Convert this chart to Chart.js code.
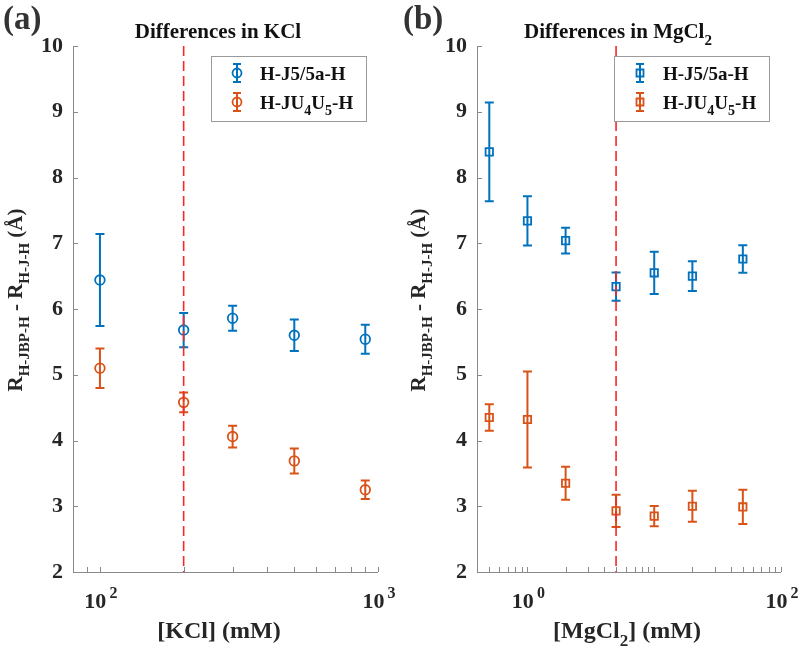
<!DOCTYPE html>
<html>
<head>
<meta charset="utf-8">
<script src="https://cdn.jsdelivr.net/npm/chart.js@4.4.1/dist/chart.umd.min.js"></script>
<style>
  body { margin: 0; background: #fff; }
  canvas { position: absolute; top: 0; }
</style>
</head>
<body>
<canvas id="kclChart" width="400" height="650" style="left:0"></canvas>
<canvas id="mgChart" width="400" height="650" style="left:400px"></canvas>
<script>
// Panel (a): differences in KCl
const kclConc = [100, 200, 300, 500, 900];
const kclJ5 = [6.44, 5.68, 5.86, 5.60, 5.54];
const kclJ5Err = [0.70, 0.26, 0.19, 0.24, 0.22];
const kclJU = [5.10, 4.58, 4.06, 3.69, 3.25];
const kclJUErr = [0.30, 0.15, 0.165, 0.19, 0.14];
const kclMarker = 200;
const kclTicks = [90, 100, 200, 300, 400, 500, 600, 700, 800, 900, 1000];
const kclDecades = [2, 3];

// Panel (b): differences in MgCl2
const mgConc = [0.5, 1, 2, 5, 10, 20, 50];
const mgJ5 = [8.39, 7.34, 7.04, 6.34, 6.55, 6.50, 6.76];
const mgJ5Err = [0.75, 0.375, 0.195, 0.215, 0.32, 0.225, 0.21];
const mgJU = [4.35, 4.32, 3.35, 2.93, 2.85, 3.00, 2.99];
const mgJUErr = [0.20, 0.73, 0.25, 0.245, 0.155, 0.235, 0.26];
const mgMarker = 5;
const mgTicks = [0.5, 0.6, 0.7, 0.8, 0.9, 1, 2, 3, 4, 5, 6, 7, 8, 9, 10, 20, 30, 40, 50, 60, 70, 80, 90, 100];
const mgDecades = [0, 2];

const yTicks = [2, 3, 4, 5, 6, 7, 8, 9, 10];

const FONT = '"Liberation Serif", "Times New Roman", serif';
const BLUE = '#0072BD';
const ORANGE = '#D95319';
const AXIS_GRAY = '#8a8a8a';
const TEXT_DARK = '#262626';
const RED = 'rgb(245, 40, 40)';

// draw text made of parts: [text, 'sub' | 'sup' | undefined]
function richText(ctx, parts, x, y, size, align, ratio = 0.7) {
    const small = Math.round(size * ratio);
    const widths = parts.map(([t, kind]) => {
        ctx.font = `bold ${kind ? small : size}px ${FONT}`;
        return ctx.measureText(t).width;
    });
    const total = widths.reduce((a, b) => a + b, 0);
    let cx = align === 'center' ? x - total / 2 : (align === 'right' ? x - total : x);
    ctx.textAlign = 'left';
    ctx.textBaseline = 'alphabetic';
    parts.forEach(([t, kind], i) => {
        ctx.font = `bold ${kind ? small : size}px ${FONT}`;
        let dy = 0;
        if (kind === 'sub') dy = size * 0.33;
        if (kind === 'sup') dy = -size * 0.45;
        ctx.fillText(t, cx, y + dy);
        cx += widths[i];
    });
    return total;
}

function drawErrorIcon(ctx, x, y, color, style) {
    ctx.save();
    ctx.strokeStyle = color;
    ctx.lineWidth = 2;
    ctx.beginPath();
    ctx.moveTo(x, y - 9); ctx.lineTo(x, y + 9);
    ctx.moveTo(x - 4, y - 9); ctx.lineTo(x + 4, y - 9);
    ctx.moveTo(x - 4, y + 9); ctx.lineTo(x + 4, y + 9);
    ctx.stroke();
    ctx.lineWidth = 1.8;
    ctx.beginPath();
    if (style === 'circle') {
        ctx.arc(x, y, 4.5, 0, Math.PI * 2);
    } else {
        ctx.rect(x - 3.5, y - 3.5, 7, 7);
    }
    ctx.stroke();
    ctx.restore();
}

const errorBarPlugin = {
    id: 'errorBars',
    beforeDatasetsDraw(chart) {
        const ctx = chart.ctx;
        const yScale = chart.scales.y;
        chart.data.datasets.forEach((ds, i) => {
            const meta = chart.getDatasetMeta(i);
            ctx.save();
            ctx.strokeStyle = ds.borderColor;
            ctx.lineWidth = 2;
            meta.data.forEach((pt, j) => {
                const v = ds.data[j].y;
                const e = ds.errors[j];
                const top = yScale.getPixelForValue(v + e);
                const bot = yScale.getPixelForValue(v - e);
                ctx.beginPath();
                ctx.moveTo(pt.x, top); ctx.lineTo(pt.x, bot);
                ctx.moveTo(pt.x - 4.5, top); ctx.lineTo(pt.x + 4.5, top);
                ctx.moveTo(pt.x - 4.5, bot); ctx.lineTo(pt.x + 4.5, bot);
                ctx.stroke();
            });
            ctx.restore();
        });
    }
};

function makeDecorations(cfg) {
    return {
        id: 'decorations',
        beforeDatasetsDraw(chart) {
            const {ctx, chartArea: a, scales: {x, y}} = chart;
            ctx.save();
            ctx.strokeStyle = AXIS_GRAY;
            ctx.lineWidth = 1;
            ctx.beginPath();
            ctx.moveTo(a.left + 0.5, a.top);
            ctx.lineTo(a.left + 0.5, a.bottom + 0.5);
            ctx.lineTo(a.right, a.bottom + 0.5);
            // inward ticks
            yTicks.forEach(v => {
                const py = Math.round(y.getPixelForValue(v)) + 0.5;
                ctx.moveTo(a.left, py); ctx.lineTo(a.left + 5, py);
            });
            cfg.ticks.forEach(v => {
                const px = Math.round(x.getPixelForValue(v)) + 0.5;
                ctx.moveTo(px, a.bottom); ctx.lineTo(px, a.bottom - 5);
            });
            ctx.stroke();
            ctx.restore();
        },
        afterDatasetsDraw(chart) {
            const {ctx, chartArea: a, scales: {x}} = chart;
            const px = x.getPixelForValue(cfg.marker);
            ctx.save();
            ctx.strokeStyle = RED;
            ctx.lineWidth = 1.6;
            ctx.setLineDash([10, 5]);
            ctx.beginPath();
            ctx.moveTo(px, a.top);
            ctx.lineTo(px, a.bottom);
            ctx.stroke();
            ctx.restore();
        },
        afterDraw(chart) {
            const {ctx, chartArea: a, scales: {x}} = chart;
            ctx.save();
            ctx.fillStyle = TEXT_DARK;

            // x tick labels as powers of ten
            cfg.decades.forEach(d => {
                const px = x.getPixelForValue(Math.pow(10, d));
                richText(ctx, [['10'], ['\u2009' + d, 'sup']], px + 1, a.bottom + 36, 22, 'center', 0.72);
            });

            // panel letter, title, axis labels
            ctx.fillStyle = '#333';
            richText(ctx, [[cfg.letter]], 3, 29, 33, 'left');
            ctx.fillStyle = '#111';
            richText(ctx, cfg.title, cfg.titleX, 38, 21, 'center');
            ctx.fillStyle = TEXT_DARK;
            richText(ctx, cfg.xLabel, cfg.xLabelX, 638, 24, 'center');

            ctx.save();
            ctx.translate(cfg.yLabelX, 300);
            ctx.rotate(-Math.PI / 2);
            richText(ctx, [['R'], ['H-JBP-H', 'sub'], [' - R'], ['H-J-H', 'sub'], [' (Å)']], 0, 0, 21, 'center');
            ctx.restore();

            // legend
            const lx = a.right - 12 - 155, ly = a.top + 10;
            ctx.fillStyle = '#fff';
            ctx.fillRect(lx, ly, 155, 65);
            ctx.strokeStyle = '#9a9a9a';
            ctx.lineWidth = 1;
            ctx.strokeRect(Math.round(lx) + 0.5, Math.round(ly) + 0.5, 155, 65);
            drawErrorIcon(ctx, lx + 26, ly + 17, BLUE, cfg.pointStyle);
            drawErrorIcon(ctx, lx + 26, ly + 46, ORANGE, cfg.pointStyle);
            ctx.fillStyle = '#111';
            richText(ctx, [['H-J5/5a-H']], lx + 49, ly + 24, 19, 'left');
            richText(ctx, [['H-JU'], ['4', 'sub'], ['U'], ['5', 'sub'], ['-H']], lx + 49, ly + 53, 19, 'left', 0.75);
            ctx.restore();
        }
    };
}

function buildPanel(cfg) {
    const ctx = document.getElementById(cfg.canvas).getContext('2d');
    const toPoints = (xs, ys) => xs.map((v, i) => ({x: v, y: ys[i]}));
    const radius = cfg.pointStyle === 'circle' ? 4.8 : 5.2;

    new Chart(ctx, {
        type: 'scatter',
        data: {
            datasets: [
                {
                    label: 'H-J5/5a-H',
                    data: toPoints(cfg.conc, cfg.j5),
                    errors: cfg.j5Err,
                    borderColor: BLUE,
                    backgroundColor: 'rgba(0,0,0,0)',
                    pointStyle: cfg.pointStyle,
                    pointRadius: radius,
                    borderWidth: 1.8
                },
                {
                    label: 'H-JU4U5-H',
                    data: toPoints(cfg.conc, cfg.ju),
                    errors: cfg.juErr,
                    borderColor: ORANGE,
                    backgroundColor: 'rgba(0,0,0,0)',
                    pointStyle: cfg.pointStyle,
                    pointRadius: radius,
                    borderWidth: 1.8
                }
            ]
        },
        options: {
            responsive: false,
            animation: false,
            events: [],
            layout: { padding: { top: 46, right: cfg.padRight, left: 0, bottom: 0 } },
            plugins: {
                legend: { display: false },
                tooltip: { enabled: false }
            },
            scales: {
                x: {
                    type: 'logarithmic',
                    min: cfg.xMin,
                    max: cfg.xMax,
                    grid: { display: false, drawTicks: false },
                    border: { display: false },
                    ticks: { display: false },
                    afterFit: scale => { scale.height = 78; }
                },
                y: {
                    type: 'linear',
                    min: 2,
                    max: 10,
                    grid: { display: false, drawTicks: false },
                    border: { display: false },
                    ticks: {
                        stepSize: 1,
                        padding: 10,
                        color: TEXT_DARK,
                        font: { family: FONT, size: 22, weight: 'bold' }
                    },
                    afterFit: scale => { scale.width = cfg.yWidth; }
                }
            }
        },
        plugins: [errorBarPlugin, makeDecorations(cfg)]
    });
}

buildPanel({
    canvas: 'kclChart',
    conc: kclConc, j5: kclJ5, j5Err: kclJ5Err, ju: kclJU, juErr: kclJUErr,
    xMin: 80, xMax: 1000,
    ticks: kclTicks, decades: kclDecades, marker: kclMarker,
    pointStyle: 'circle',
    yWidth: 73, padRight: 22,
    letter: '(a)',
    title: [['Differences in KCl']], titleX: 218,
    xLabel: [['[KCl] (mM)']], xLabelX: 219,
    yLabelX: 22
});

buildPanel({
    canvas: 'mgChart',
    conc: mgConc, j5: mgJ5, j5Err: mgJ5Err, ju: mgJU, juErr: mgJUErr,
    xMin: 0.4, xMax: 100,
    ticks: mgTicks, decades: mgDecades, marker: mgMarker,
    pointStyle: 'rect',
    yWidth: 77, padRight: 19,
    letter: '(b)',
    title: [['Differences in MgCl'], ['2', 'sub']], titleX: 218,
    xLabel: [['[MgCl'], ['2', 'sub'], ['] (mM)']], xLabelX: 227,
    yLabelX: 25
});
</script>
</body>
</html>
